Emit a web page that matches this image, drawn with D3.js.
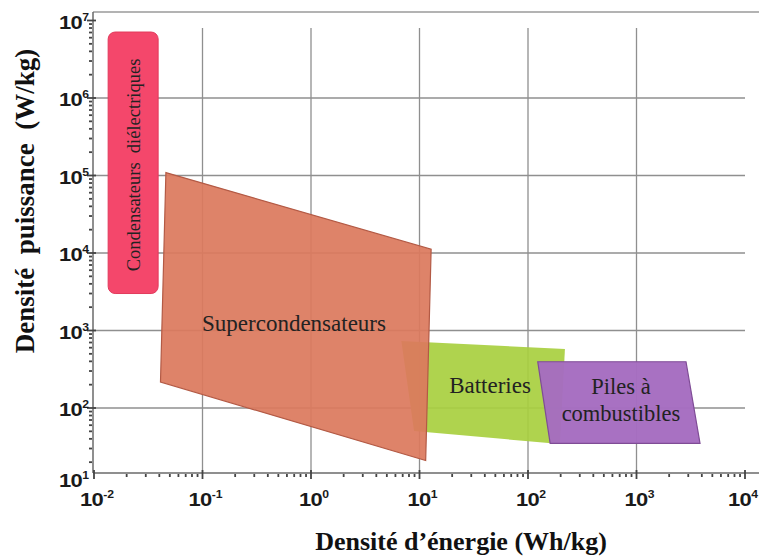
<!DOCTYPE html>
<html><head><meta charset="utf-8">
<script src="https://cdn.jsdelivr.net/npm/d3@7"></script>
<style>body{margin:0;background:#fff}svg{display:block}</style>
</head><body>
<svg id="c" width="759" height="556"></svg>
<script>
// ---- data (energy density Wh/kg, power density W/kg) ----
const xTickExps = [-2, -1, 0, 1, 2, 3, 4];
const yTickExps = [1, 2, 3, 4, 5, 6, 7];
const regionNames = ["Condensateurs  diélectriques", "Supercondensateurs", "Batteries", "Piles à combustibles"];
const condEnergy = [0.0135, 0.039];
const condPower = [3000, 7.1e6];
const superEnergy = [0.046, 12.8, 11.4, 0.041];
const superPower = [1.09e5, 1.12e4, 21, 216];
const battEnergy = [6.8, 219, 197, 8.9];
const battPower = [733, 577, 34.3, 50.5];
const pileEnergy = [123, 2860, 3850, 160];
const pilePower = [395, 395, 35, 35];
const xTitle = "Densité d’énergie (Wh/kg)";
const yTitle = "Densité  puissance  (W/kg)";

const svg = d3.select("#c");
const x = d3.scaleLog().domain([1e-2, 1e4]).range([94, 745]);
const y = d3.scaleLog().domain([1e1, 1e7]).range([485.5, 20.5]);
const axisY = 473, axisX = 93;
const serif = "'Liberation Serif', 'Times New Roman', serif";
const sans = "'Liberation Sans', Arial, sans-serif";

// frame
svg.append("line").attr("x1", axisX).attr("x2", 759).attr("y1", 12).attr("y2", 12)
  .attr("stroke", "#9a9a9a").attr("stroke-width", 1.5);

// grid
const g = svg.append("g");
[-1, 0, 1, 2, 3].forEach(e => {
  g.append("line").attr("x1", x(10 ** e)).attr("x2", x(10 ** e)).attr("y1", 28).attr("y2", axisY)
    .attr("stroke", "#8f8f8f").attr("stroke-width", 1.3);
});
[2, 3, 4, 5, 6].forEach(e => {
  g.append("line").attr("x1", axisX).attr("x2", 745).attr("y1", y(10 ** e)).attr("y2", y(10 ** e))
    .attr("stroke", "#8f8f8f").attr("stroke-width", 1.3);
});

// axes lines
svg.append("line").attr("x1", axisX).attr("x2", axisX).attr("y1", 12).attr("y2", axisY)
  .attr("stroke", "#6a6a6a").attr("stroke-width", 1.5);
svg.append("line").attr("x1", axisX).attr("x2", 759).attr("y1", axisY).attr("y2", axisY)
  .attr("stroke", "#6a6a6a").attr("stroke-width", 1.5);

// minor ticks
const tk = svg.append("g").attr("stroke", "#444").attr("stroke-width", 1.8);
for (let e = -2; e < 4; e++) for (let m = 2; m <= 9; m++) {
  const xv = x(m * 10 ** e);
  tk.append("line").attr("x1", xv).attr("x2", xv).attr("y1", axisY + 1).attr("y2", axisY + 4);
}
for (let e = 1; e < 7; e++) for (let m = 2; m <= 9; m++) {
  const yv = y(m * 10 ** e);
  if (yv > axisY) continue;
  tk.append("line").attr("x1", axisX - 4).attr("x2", axisX - 1).attr("y1", yv).attr("y2", yv);
}
xTickExps.forEach(e => {
  const xv = x(10 ** e);
  tk.append("line").attr("x1", xv).attr("x2", xv).attr("y1", axisY - 3).attr("y2", axisY + 6);
});
yTickExps.forEach(e => {
  const yv = y(10 ** e);
  if (yv > axisY) return;
  tk.append("line").attr("x1", axisX - 6).attr("x2", axisX + 3).attr("y1", yv).attr("y2", yv);
});

// tick labels (slightly widened like the reference)
function powLabel(tx, ty, anchor, e) {
  const t = svg.append("text").attr("transform", `translate(${tx},${ty}) scale(1.22,1)`)
    .attr("text-anchor", anchor).attr("font-family", sans)
    .attr("font-weight", "bold").attr("font-size", 18).attr("fill", "#1a1a1a");
  t.append("tspan").attr("letter-spacing", -0.5).text("10");
  t.append("tspan").attr("font-size", 10).attr("dy", -8).text(e);
}
xTickExps.forEach(e => powLabel(Math.min(x(10 ** e) + 3, 743), 506, "middle", e));
yTickExps.forEach(e => powLabel(89, Math.min(y(10 ** e) + 8, 487), "end", e));

// regions
const pts = (ex, py) => ex.map((v, i) => [x(v), y(py[i])]);
const line = d3.line();
svg.append("rect").attr("x", x(condEnergy[0])).attr("y", y(condPower[1]))
  .attr("width", x(condEnergy[1]) - x(condEnergy[0])).attr("height", y(condPower[0]) - y(condPower[1]))
  .attr("rx", 7).attr("fill", "#f4476b").attr("stroke", "#e23a5c").attr("stroke-width", 1);
svg.append("path").attr("d", line(pts(battEnergy, battPower)) + "Z")
  .attr("fill", "#a8cf3f").attr("fill-opacity", 0.92);
svg.append("path").attr("d", line(pts(superEnergy, superPower)) + "Z")
  .attr("fill", "#dc7a5e").attr("fill-opacity", 0.93).attr("stroke", "#b35a45").attr("stroke-width", 1.2);
svg.append("path").attr("d", line(pts(pileEnergy, pilePower)) + "Z")
  .attr("fill", "#a56cc0").attr("fill-opacity", 0.97).attr("stroke", "#7f4c96").attr("stroke-width", 1.2);

// region labels
svg.append("text").attr("transform", `translate(140,165) rotate(-90)`)
  .attr("text-anchor", "middle").attr("font-family", serif).attr("font-size", 18.5).attr("fill", "#222")
  .style("white-space", "pre").text(regionNames[0]);
svg.append("text").attr("x", 294).attr("y", 331).attr("text-anchor", "middle")
  .attr("font-family", serif).attr("font-size", 23).attr("fill", "#222").text(regionNames[1]);
svg.append("text").attr("x", 490).attr("y", 393).attr("text-anchor", "middle")
  .attr("font-family", serif).attr("font-size", 23).attr("fill", "#222").text(regionNames[2]);
const pl = svg.append("text").attr("text-anchor", "middle").attr("font-family", serif)
  .attr("font-size", 22.5).attr("fill", "#222");
pl.append("tspan").attr("x", 621).attr("y", 394).text("Piles à");
pl.append("tspan").attr("x", 621).attr("y", 421).text("combustibles");

// axis titles
svg.append("text").attr("x", 461).attr("y", 550).attr("text-anchor", "middle")
  .attr("font-family", serif).attr("font-weight", "bold").attr("font-size", 26).attr("fill", "#111").text(xTitle);
svg.append("text").attr("transform", "translate(34,201) rotate(-90)").attr("text-anchor", "middle")
  .attr("font-family", serif).attr("font-weight", "bold").attr("font-size", 27).attr("fill", "#111")
  .style("white-space", "pre").text(yTitle);
</script>
</body></html>
